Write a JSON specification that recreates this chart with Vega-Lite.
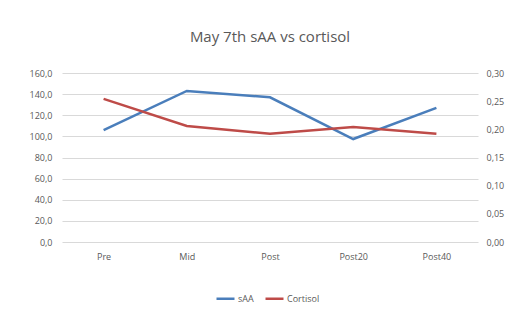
{
  "$schema": "https://vega.github.io/schema/vega-lite/v6.json",
  "width": 416,
  "height": 169,
  "autosize": {"type": "none"},
  "padding": {"left": 62, "top": 73, "right": 41, "bottom": 75},
  "background": "white",
  "title": {"text": "May 7th sAA vs cortisol", "fontSize": 15, "font": "Open Sans", "fontWeight": "normal", "color": "#595959", "anchor": "middle", "offset": 24},
  "config": {
    "locale": {"number": {"decimal": ",", "thousands": ".", "grouping": [3], "currency": ["", " €"]}},
    "view": {"stroke": null},
    "axis": {"labelFont": "Open Sans", "labelFontSize": 9, "labelColor": "#595959", "domain": false, "ticks": false, "gridColor": "#d9d9d9", "title": null},
    "legend": {"labelFont": "Open Sans", "labelFontSize": 9, "labelColor": "#595959"}
  },
  "data": {"values": [
    {"time": "Pre", "sAA": 106, "Cortisol": 0.254},
    {"time": "Mid", "sAA": 143, "Cortisol": 0.206},
    {"time": "Post", "sAA": 137, "Cortisol": 0.192},
    {"time": "Post20", "sAA": 97.5, "Cortisol": 0.204},
    {"time": "Post40", "sAA": 127, "Cortisol": 0.192}
  ]},
  "encoding": {
    "x": {"field": "time", "type": "ordinal", "sort": null, "scale": {"type": "point", "padding": 0.5}, "axis": {"labelAngle": 0, "labelPadding": 10, "grid": false}}
  },
  "layer": [
    {
      "mark": {"type": "line", "strokeWidth": 2.5},
      "encoding": {
        "y": {"field": "sAA", "type": "quantitative", "scale": {"domain": [0, 160]}, "axis": {"orient": "left", "tickCount": 8, "format": ",.1f", "labelPadding": 10}},
        "color": {"datum": "sAA", "type": "nominal", "scale": {"domain": ["sAA", "Cortisol"], "range": ["#4a7ebb", "#be4b48"]}, "legend": {"orient": "none", "legendX": 153, "legendY": 215, "direction": "horizontal", "title": null, "symbolType": "stroke", "symbolStrokeWidth": 2.5, "symbolSize": 324, "labelOffset": 2, "columnPadding": 6}}
      }
    },
    {
      "mark": {"type": "line", "strokeWidth": 2.5},
      "encoding": {
        "y": {"field": "Cortisol", "type": "quantitative", "scale": {"domain": [0, 0.3]}, "axis": {"orient": "right", "tickCount": 6, "format": ",.2f", "grid": false, "labelPadding": 8}},
        "color": {"datum": "Cortisol", "type": "nominal"}
      }
    }
  ],
  "resolve": {"scale": {"y": "independent"}}
}
